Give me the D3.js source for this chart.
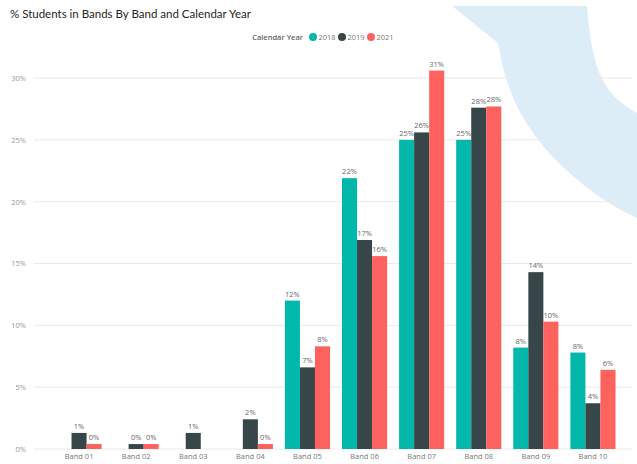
<!DOCTYPE html>
<html>
<head>
<meta charset="utf-8">
<script src="https://cdn.jsdelivr.net/npm/d3@7/dist/d3.min.js"></script>
<style>
  html, body { margin: 0; padding: 0; background: #fff; }
  svg { display: block; font-family: "Open Sans", "Noto Sans", sans-serif; }
</style>
</head>
<body>
<svg id="chart" width="637" height="464"></svg>
<script>
// Bands and calendar years
const bands = ["Band 01", "Band 02", "Band 03", "Band 04", "Band 05",
               "Band 06", "Band 07", "Band 08", "Band 09", "Band 10"];
const years = ["2018", "2019", "2021"];

// % of students in each band (null = no students that year)
const values2018 = [null, null, null, null, 12.0, 21.9, 25.0, 25.0, 8.2, 7.8];
const values2019 = [1.3, 0.4, 1.3, 2.4, 6.6, 16.9, 25.6, 27.6, 14.3, 3.7];
const values2021 = [0.4, 0.4, null, 0.4, 8.3, 15.6, 30.6, 27.7, 10.3, 6.4];

const yTicks = [0, 5, 10, 15, 20, 25, 30];
const colors = ["#01B8AA", "#374649", "#FD625E"];

const seriesValues = [values2018, values2019, values2021];
const rows = bands.map((b, i) => ({
  band: b,
  vals: years.map((y, k) => ({ year: y, v: seriesValues[k][i], k }))
}));

const svg = d3.select("#chart");

// Decorative background swoosh in the top-right corner
svg.append("path")
  .attr("d", "M452,6 L587,6 C589,30 592,55 599,72 C607,92 620,104 637,113 L637,218 " +
             "C610,206 585,188 562,166 C541,146 525,124 515,102 C505,80 501,60 498,43 Z")
  .attr("fill", "#ddedf7");

// Title
svg.append("text")
  .attr("x", 10).attr("y", 18)
  .attr("font-size", 11.5)
  .attr("font-family", "Lato, 'Open Sans', sans-serif")
  .attr("fill", "#252423")
  .text("% Students in Bands By Band and Calendar Year");

// Scales
const x0 = d3.scaleBand().domain(bands).range([50.5, 621.5]).paddingInner(0.21).paddingOuter(0.105);
const x1 = d3.scaleBand().domain(years).range([0, x0.bandwidth()]);
const y = d3.scaleLinear().domain([0, 30]).range([449, 78]);

// Gridlines
svg.append("g").selectAll("line")
  .data(yTicks).join("line")
  .attr("x1", 34).attr("x2", 632)
  .attr("y1", d => y(d)).attr("y2", d => y(d))
  .attr("stroke", "#eaeaea").attr("stroke-width", 1);

// Y axis labels
const yAxis = d3.axisLeft(y).tickValues(yTicks).tickFormat(d => d + "%").tickSize(0).tickPadding(0);
svg.append("g")
  .attr("transform", "translate(26,0)")
  .call(yAxis)
  .call(g => g.select(".domain").remove())
  .call(g => g.selectAll("text").attr("font-size", 7.5).attr("fill", "#999")
      .attr("font-family", "'Open Sans', sans-serif"));

// X axis labels
const xAxis = d3.axisBottom(x0).tickSize(0).tickPadding(0);
svg.append("g")
  .attr("transform", "translate(0,454)")
  .call(xAxis)
  .call(g => g.select(".domain").remove())
  .call(g => g.selectAll("text").attr("font-size", 7.5).attr("fill", "#777")
      .attr("font-family", "'Open Sans', sans-serif"));

// Bars
const groups = svg.append("g").selectAll("g")
  .data(rows).join("g")
  .attr("transform", d => `translate(${x0(d.band)},0)`);

groups.selectAll("rect")
  .data(d => d.vals.filter(v => v.v !== null))
  .join("rect")
  .attr("x", d => x1(d.year))
  .attr("width", x1.bandwidth())
  .attr("y", d => y(d.v))
  .attr("height", d => y(0) - y(d.v))
  .attr("fill", d => colors[d.k]);

// Data labels
groups.selectAll("text")
  .data(d => d.vals.filter(v => v.v !== null))
  .join("text")
  .attr("x", d => x1(d.year) + x1.bandwidth() / 2)
  .attr("y", d => y(d.v) - 4)
  .attr("text-anchor", "middle")
  .attr("font-size", 7.5)
  .attr("fill", "#666")
  .text(d => Math.round(d.v) + "%");

// Legend
const legend = svg.append("g").attr("transform", "translate(0,37)");
legend.append("text")
  .attr("x", 303).attr("y", 2.7)
  .attr("text-anchor", "end")
  .attr("font-size", 7.5).attr("font-weight", 600)
  .attr("fill", "#666")
  .text("Calendar Year");
const items = legend.selectAll("g.item")
  .data(years).join("g")
  .attr("class", "item")
  .attr("transform", (d, i) => `translate(${313 + i * 29},0)`);
items.append("circle").attr("r", 4).attr("fill", (d, i) => colors[i]);
items.append("text")
  .attr("x", 5.5).attr("y", 2.7)
  .attr("font-size", 7.5).attr("fill", "#777")
  .text(d => d);
</script>
</body>
</html>
